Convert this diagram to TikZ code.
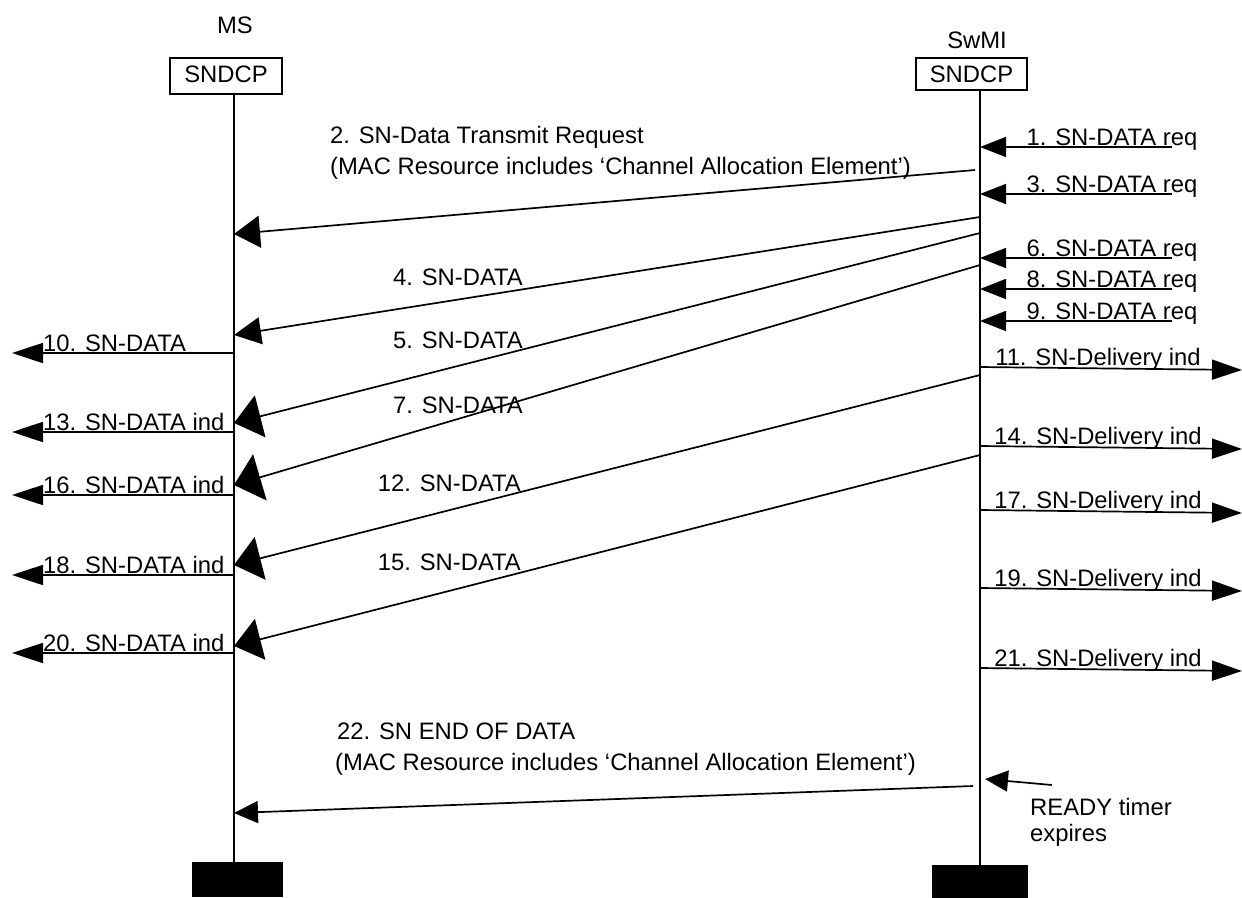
\documentclass[tikz,border=0pt]{standalone}
\usepackage{fontspec}
\setmainfont{Liberation Sans}
\usetikzlibrary{arrows.meta}
\begin{document}
\begin{tikzpicture}[x=1pt,y=-1pt,
  every node/.style={font=\fontsize{23.8}{28}\selectfont, inner sep=0pt},
  life/.style={line width=1.7pt},
  msg/.style={line width=1.7pt},
  hsmall/.style={-{Triangle[length=26pt,width=20pt]}},
  hleft/.style={-{Triangle[length=31pt,width=20pt]}},
  hright/.style={-{Triangle[length=30pt,width=20pt]}},
  hbig/.style={-{Triangle[length=27pt,width=#1]}},
  entity/.style={draw, line width=1.3pt, anchor=base, text height=24pt},
  endbox/.style={fill=black, anchor=north west, minimum width=#1, minimum height=35pt},
  lbl/.style={anchor=base}
]
\useasboundingbox (0,0) rectangle (1242,897);

% entities
\node[lbl] (msname) at (235,33) {MS};
\node[lbl] (swname) at (977,48) {SwMI};
\node[entity, text depth=12pt, minimum width=112pt] (msbox) at (226,82) {SNDCP};
\node[entity, text depth=8pt, minimum width=111pt] (swbox) at (971.5,82) {SNDCP};
\node[endbox=91pt] (msend) at (192,862) {};
\node[endbox=96pt] (swend) at (932,865) {};

% lifelines
\coordinate (msTop) at (234,94);
\coordinate (msBot) at (234,862);
\coordinate (swTop) at (980,90);
\coordinate (swBot) at (980,865);
\draw[life] (msTop) -- (msBot);
\draw[life] (swTop) -- (swBot);

% requests arriving at SwMI from the right
\foreach \n/\y in {1/147,3/194,6/258,8/289,9/321}{
  \coordinate (rq\n) at (1172,\y);
  \coordinate (sw\n) at (980,\y);
  \draw[msg,hsmall] (rq\n) -- (sw\n);
  \node[lbl] (lq\n) at (1112,\y-1.5) {\n. SN-DATA req};
}

% delivery indications leaving SwMI to the right
\foreach \n/\y in {11/367,14/446,17/510,19/588,21/668}{
  \coordinate (swd\n) at (980,\y);
  \coordinate (rd\n) at (1242,\y+3);
  \draw[msg,hright] (swd\n) -- (rd\n);
  \node[lbl] (ld\n) at (1098,\y-2) {\n. SN-Delivery ind};
}

% indications leaving MS to the left
\foreach \n/\y/\t in {10/353/SN-DATA,13/432/SN-DATA ind,16/495/SN-DATA ind,18/575/SN-DATA ind,20/653/SN-DATA ind}{
  \coordinate (msi\n) at (234,\y);
  \coordinate (li\n) at (12,\y);
  \draw[msg,hleft] (msi\n) -- (li\n);
  \node[anchor=base west] (lt\n) at (43,\y-2) {\n. \t};
}

% diagonal messages SwMI -> MS
\coordinate (a2) at (975,170);  \coordinate (b2) at (234,234);
\coordinate (a4) at (980,217);  \coordinate (b4) at (234,335);
\coordinate (a5) at (980,233);  \coordinate (b5) at (234,423);
\coordinate (a7) at (980,265);  \coordinate (b7) at (234,485);
\coordinate (a12) at (980,375); \coordinate (b12) at (234,565);
\coordinate (a15) at (980,455); \coordinate (b15) at (234,646);
\coordinate (a22) at (973,786); \coordinate (b22) at (234,813);
\draw[msg,-{Triangle[length=26pt,width=32pt]}] (a2) -- (b2);
\draw[msg,hbig=27pt] (a4) -- (b4);
\draw[msg,hbig=43pt] (a5) -- (b5);
\draw[msg,hbig=48pt] (a7) -- (b7);
\draw[msg,hbig=44pt] (a12) -- (b12);
\draw[msg,hbig=42pt] (a15) -- (b15);
\draw[msg,-{Triangle[length=24pt,width=22pt]}] (a22) -- (b22);

\node[anchor=base west] (t2a) at (330,143) {2. SN-Data Transmit Request};
\node[anchor=base west] (t2b) at (330,174) {(MAC Resource includes ‘Channel Allocation Element’)};
\node[anchor=base east] (t4) at (523,285) {4. SN-DATA};
\node[anchor=base east] (t5) at (523,348) {5. SN-DATA};
\node[anchor=base east] (t7) at (523,413) {7. SN-DATA};
\node[anchor=base east] (t12) at (521,491) {12. SN-DATA};
\node[anchor=base east] (t15) at (521,570) {15. SN-DATA};
\node[anchor=base west] (t22a) at (337,739) {22. SN END OF DATA};
\node[anchor=base west] (t22b) at (335,770) {(MAC Resource includes ‘Channel Allocation Element’)};

% READY timer
\coordinate (rt) at (1052,785);
\coordinate (rtend) at (985,779);
\draw[msg,-{Triangle[length=23pt,width=21pt]}] (rt) -- (rtend);
\node[anchor=base west] (rta) at (1030,815) {READY timer};
\node[anchor=base west] (rtb) at (1030,841) {expires};
\end{tikzpicture}
\end{document}
